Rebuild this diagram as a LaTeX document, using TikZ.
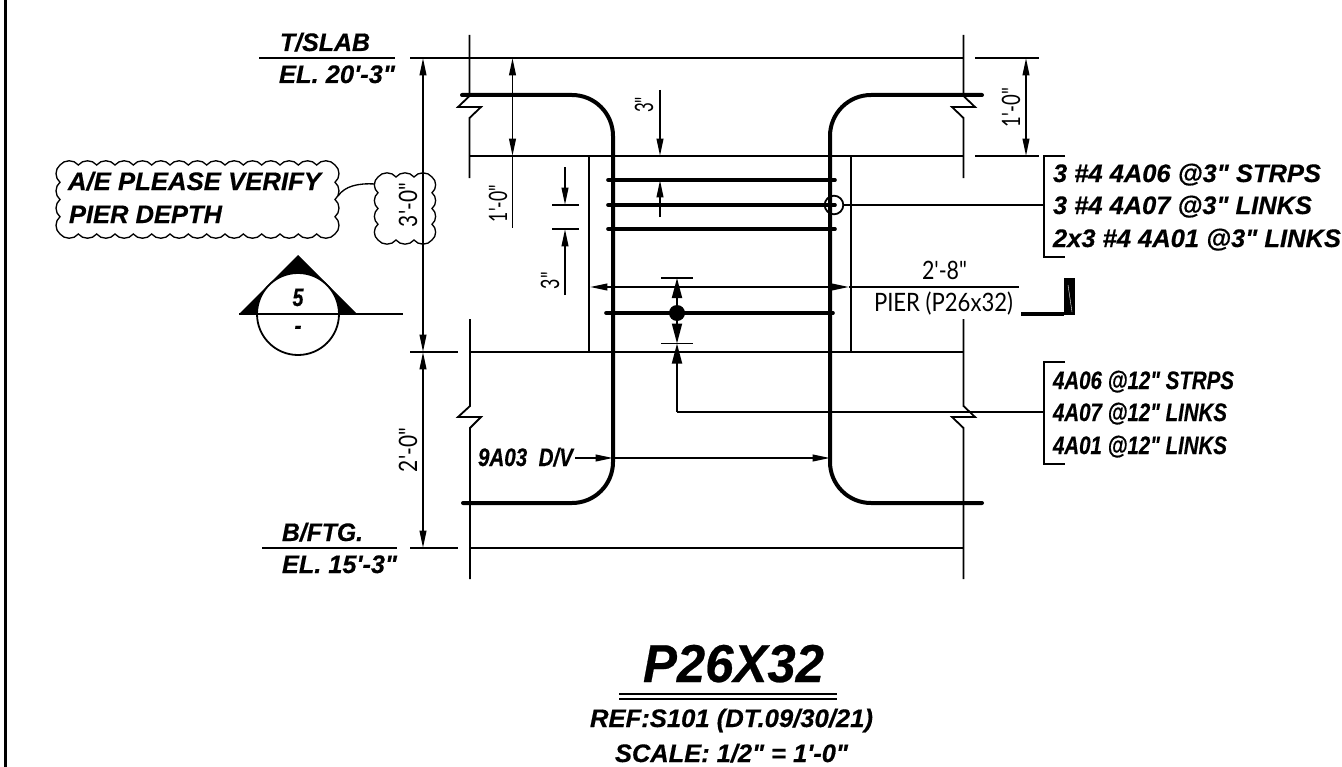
\documentclass[tikz,border=0pt]{standalone}
\usepackage{fontspec}
\usepackage{graphicx}
\newfontfamily\labf[FakeBold=0.45]{Liberation Sans Bold Italic}
\newfontfamily\thinf{Lato}
\usetikzlibrary{arrows.meta}
\newsavebox\fitbox
\newcommand\fitw[3]{\sbox\fitbox{#2#3}\pgfmathsetmacro\myratio{#1*0.75/(\wd\fitbox)}\scalebox{\myratio}[1]{\usebox\fitbox}}
\newcommand\lab{\labf\fontsize{19pt}{20pt}\selectfont}
\newcommand\dimf{\thinf\fontsize{19pt}{20pt}\selectfont}
\tikzset{
  thin line/.style={line width=1.35pt},
  bar/.style={line width=3pt,line cap=round},
  tie/.style={line width=2.7pt,line cap=round},
  both/.style={line width=1.35pt,{Triangle[length=13pt,width=5pt]}-{Triangle[length=13pt,width=5pt]}},
  tip/.style={line width=1.35pt,-{Triangle[length=13pt,width=5pt]}},
  bigtip/.style={line width=1.35pt,-{Triangle[length=15pt,width=7.5pt]}},
  txt/.style={inner sep=0pt,outer sep=0pt,anchor=base west},
  rtxt/.style={inner sep=0pt,outer sep=0pt,anchor=base west,rotate=90},
  cloudline/.style={line width=1pt}
}
\newcommand\cloud[6]{% x1 y1 x2 y2 nx ny
  \pgfmathsetmacro\dx{(#3-#1)/#5}\pgfmathsetmacro\dy{(#4-#2)/#6}
  \draw[cloudline] (#1,#2)
   \foreach \i in {1,...,#5}{ to[bend left=52] ({#1+\i*\dx},#2) }
   \foreach \i in {1,...,#6}{ to[bend left=52] (#3,{#2+\i*\dy}) }
   \foreach \i in {1,...,#5}{ to[bend left=52] ({#3-\i*\dx},#4) }
   \foreach \i in {1,...,#6}{ to[bend left=52] (#1,{#4-\i*\dy}) };
}
\begin{document}
\begin{tikzpicture}[x=0.75pt,y=-0.75pt]
\useasboundingbox (0,0) rectangle (1342,767);
\fill[white] (0,0) rectangle (1342,767);
% border
\draw[line width=1.6pt] (5.5,0) -- (5.5,767);
% level lines
\draw[thin line] (259,58) -- (395,58);
\draw[thin line] (410,58) -- (964,58);
\draw[thin line] (975,58) -- (1039,58);
\draw[thin line] (470,156) -- (964,156);
\draw[thin line] (975,156) -- (1039,156);
\draw[thin line] (410,352) -- (458,352);
\draw[thin line] (470,352) -- (964,352);
\draw[thin line] (262,548) -- (397,548);
\draw[thin line] (410,548) -- (458,548);
\draw[thin line] (470,548) -- (964,548);
% wall lines with break marks
\draw[thin line] (469.5,35) -- (469.5,96) -- (458,107) -- (481,107) -- (469.5,118) -- (469.5,178);
\draw[thin line] (470,319) -- (470,406) -- (458,417) -- (481,417) -- (470,428) -- (470,579);
\draw[thin line] (963.5,35) -- (963.5,96) -- (975,107) -- (952,107) -- (963.5,118) -- (963.5,178);
\draw[thin line] (963.5,319) -- (963.5,406) -- (975,417) -- (952,417) -- (963.5,428) -- (963.5,579);
% pier sides
\draw[thin line] (589,156) -- (589,352);
\draw[thin line] (851,156) -- (851,352);
% main bars
\draw[bar] (462,95) -- (572,95) arc[start angle=90,end angle=0,x radius=41,y radius=-41] -- (613,462) arc[start angle=0,end angle=-90,x radius=41,y radius=-41] -- (463,503);
\draw[bar] (982,95) -- (871,95) arc[start angle=90,end angle=180,x radius=41,y radius=-41] -- (830,462) arc[start angle=180,end angle=270,x radius=41,y radius=-41] -- (982,503);
% ties
\draw[tie] (608,180) -- (835,180);
\draw[tie] (608,205) -- (835,205);
\draw[tie] (608,229) -- (835,229);
\draw[tie] (606,313) -- (833,313);
\fill (677,313) circle[radius=8];
\draw[thin line] (834,205) circle[radius=9.3];
% dimensions
\draw[both] (423,58) -- (423,352);
\draw[both] (423,352) -- (423,548);
\draw[both] (512.5,58) -- (512.5,156);
\draw[thin line] (512.5,156) -- (512.5,228);
\draw[both] (1026,58) -- (1026,156);
\draw[tip] (660,90) -- (660,156);
\draw[tip] (660,217) -- (660,180);
\draw[tip] (565,167) -- (565,205);
\draw[tip] (565,295) -- (565,229);
\draw[thin line] (552,205) -- (579,205);
\draw[thin line] (552,229) -- (579,229);
\draw[both] (590,287) -- (849,287);
\draw[thin line] (849,287) -- (1019,287);
\draw[thin line] (661,278) -- (693,278);
\draw[thin line] (661,343.5) -- (693,343.5);
\draw[bigtip] (677,313) -- (677,278);
\draw[bigtip] (677,313) -- (677,343.5);
\draw[bigtip] (677,412) -- (677,343.5);
% leaders
\coordinate (upperbr) at (1044,205);
\coordinate (lowerbr) at (1044,412);
\coordinate (dvstart) at (575,458);
\draw[thin line] (843,205) -- (upperbr);
\draw[thin line] (677,412) -- (lowerbr);
\draw[thin line] (1065,156) -- (1044,156) -- (1044,257) -- (1065,257);
\draw[thin line] (1065,362) -- (1044,362) -- (1044,464) -- (1065,464);
\draw[tip] (dvstart) -- (613,458);
\draw[tip] (613,458) -- (830,458);
% clouds
\cloud{60}{165}{335}{234}{15}{4}
\cloud{378}{177}{432}{240}{3}{4}
\coordinate (cloudA) at (338,196);
\coordinate (cloudB) at (375,184);
\draw[cloudline] (cloudA) .. controls (345,186) and (358,183) .. (cloudB);
% section mark
\fill (298,255) -- (357,314) -- (239,314) -- cycle;
\draw[thin line,fill=white] (298,314) circle[radius=41];
\draw[thin line] (239,314) -- (403,314);
\draw[line width=2.4pt] (1021,314) -- (1064,314);
\fill (1064,278) rectangle (1075,315);
\draw[white,line width=.3pt] (1068,285) -- (1072,312);
% texts
\node[txt] (tslab) at (280,51) {\fitw{90}{\lab}{T/SLAB}};
\node[txt] (el20) at (279,83) {\fitw{116}{\lab}{EL. 20'-3"}};
\node[txt] (bftg) at (282,541) {\fitw{81}{\lab}{B/FTG.}};
\node[txt] (el15) at (282,573) {\fitw{115}{\lab}{EL. 15'-3"}};
\node[txt] (ae1) at (68,190) {\fitw{253}{\lab}{A/E PLEASE VERIFY}};
\node[txt] (ae2) at (69,223) {\fitw{153}{\lab}{PIER DEPTH}};
\node[txt] (n5) at (292.5,306) {\fitw{11}{\lab}{5}};
\node[txt] (ndash) at (294.5,334) {\fitw{7}{\lab}{-}};
\node[txt] (s1) at (1053,182) {\fitw{268}{\lab}{3 \#4 4A06 @3" STRPS}};
\node[txt] (s2) at (1053,214) {\fitw{259}{\lab}{3 \#4 4A07 @3" LINKS}};
\node[txt] (s3) at (1053,247) {\fitw{288}{\lab}{2x3 \#4 4A01 @3" LINKS}};
\node[txt] (t1) at (1053,389) {\fitw{181}{\lab}{4A06 @12" STRPS}};
\node[txt] (t2) at (1053,421) {\fitw{174}{\lab}{4A07 @12" LINKS}};
\node[txt] (t3) at (1053,454) {\fitw{174}{\lab}{4A01 @12" LINKS}};
\node[txt] (dv) at (478,466) {\fitw{95}{\lab}{9A03\ \ D/V}};
\node[txt] (w28) at (922,279) {\fitw{45}{\dimf}{2'-8"}};
\node[txt] (pier) at (874,311) {\fitw{139}{\dimf}{PIER (P26x32)}};
\node[rtxt] (d30) at (417,227) {\fitw{44}{\dimf}{3'-0"}};
\node[rtxt] (d20) at (417,472) {\fitw{44}{\dimf}{2'-0"}};
\node[rtxt] (d10l) at (507,222) {\fitw{37}{\dimf}{1'-0"}};
\node[rtxt] (d10r) at (1020,127) {\fitw{39}{\dimf}{1'-0"}};
\node[rtxt] (d3a) at (653,113) {\fitw{16}{\dimf}{3"}};
\node[rtxt] (d3b) at (559,289) {\fitw{17}{\dimf}{3"}};
\node[txt] (title) at (643,682) {\fitw{181}{\labf\fontsize{40pt}{42pt}\selectfont}{P26X32}};
\draw[thin line] (619,694) -- (837,694);
\draw[thin line] (619,699) -- (837,699);
\node[txt] (ref) at (590,727) {\fitw{283}{\lab}{REF:S101 (DT.09/30/21)}};
\node[txt] (scale) at (615,762) {\fitw{233}{\lab}{SCALE: 1/2" = 1'-0"}};
\end{tikzpicture}
\end{document}
